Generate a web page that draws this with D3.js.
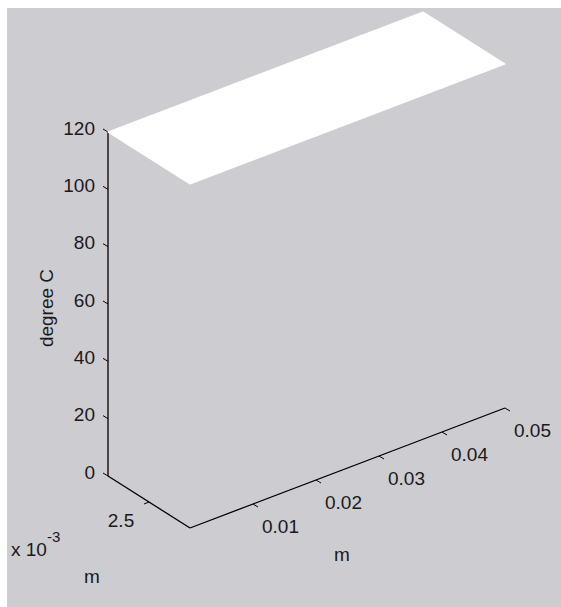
<!DOCTYPE html>
<html>
<head>
<meta charset="utf-8">
<script src="https://cdn.jsdelivr.net/npm/d3@7"></script>
<style>
  html, body { margin: 0; padding: 0; background: #ffffff; }
  svg { display: block; }
  text { font-family: "Liberation Sans", Arial, Helvetica, sans-serif; fill: #1a1a1a; }
</style>
</head>
<body>
<svg id="chart" width="561" height="607"></svg>
<script>
// Grid of the plotted surface: x (m), y (m) and temperature (degree C)
const gridX = [0, 0.01, 0.02, 0.03, 0.04, 0.05];
const gridY = [0, 0.0025, 0.005];
const gridZ = [
  [120, 120, 120, 120, 120, 120],
  [120, 120, 120, 120, 120, 120],
  [120, 120, 120, 120, 120, 120]
];

// Axis ticks and their labels
const xTicks = [0.01, 0.02, 0.03, 0.04, 0.05];
const xTickLabels = ["0.01", "0.02", "0.03", "0.04", "0.05"];
const yTicks = [0.0025];
const yTickLabels = ["2.5"];
const zTicks = [0, 20, 40, 60, 80, 100, 120];
const zTickLabels = ["0", "20", "40", "60", "80", "100", "120"];

const xLabel = "m";
const yLabel = "m";
const zLabel = "degree C";
const yExponent = "-3";

const svg = d3.select("#chart");
const W = 561, H = 607;

// Figure background
svg.append("rect").attr("x", 7).attr("y", 8).attr("width", W - 7).attr("height", H - 8)
  .attr("fill", "rgb(205,204,208)");

// Oblique 3-D projection: each data axis maps to a screen direction
const origin = [190, 528];               // screen point of (x=0, y=0, z=0)
const xScale = d3.scaleLinear().domain([0, 0.05]).range([0, 1]);
const yScale = d3.scaleLinear().domain([0, 0.005]).range([0, 1]);
const zScale = d3.scaleLinear().domain([0, 120]).range([0, -344]);
const xDir = [315, -120];
const yDir = [-82, -52];

function project(x, y, z) {
  const fx = xScale(x), fy = yScale(y);
  return [
    origin[0] + fx * xDir[0] + fy * yDir[0],
    origin[1] + fx * xDir[1] + fy * yDir[1] + zScale(z)
  ];
}

const xMin = d3.min(gridX), xMax = d3.max(gridX);
const yMin = d3.min(gridY), yMax = d3.max(gridY);
const zMin = d3.min(zTicks), zMax = d3.max(zTicks);

const line = d3.line();
const axes = svg.append("g").attr("fill", "none").attr("stroke", "#000");

// Axis lines
axes.append("path").attr("stroke-width", 1.3)
  .attr("d", line([project(xMin, yMax, zMin), project(xMin, yMax, zMax)]));
axes.append("path").attr("stroke-width", 1.3)
  .attr("d", line([project(xMin, yMax, zMin), project(xMin, yMin, zMin)]));
axes.append("path").attr("stroke-width", 1.3)
  .attr("d", line([project(xMin, yMin, zMin), project(xMax, yMin, zMin)]));

// z ticks and labels
zTicks.forEach((t, i) => {
  const p = project(xMin, yMax, t);
  const q = [p[0] - 5, p[1] - 3];
  axes.append("path").attr("stroke-width", 1).attr("d", line([p, q]));
  svg.append("text").attr("x", q[0] - 8).attr("y", p[1] - 4)
    .attr("text-anchor", "end").attr("dominant-baseline", "central")
    .attr("font-size", 19).text(zTickLabels[i]);
});

// x ticks and labels
xTicks.forEach((t, i) => {
  const p = project(t, yMin, zMin);
  const q = [p[0] + 5, p[1] + 3];
  axes.append("path").attr("stroke-width", 1).attr("d", line([p, q]));
  svg.append("text").attr("x", p[0] + 9).attr("y", p[1] + 22)
    .attr("text-anchor", "start").attr("dominant-baseline", "central")
    .attr("font-size", 19).text(xTickLabels[i]);
});

// y ticks and labels
yTicks.forEach((t, i) => {
  const p = project(xMin, t, zMin);
  const q = [p[0] - 5, p[1] + 2];
  axes.append("path").attr("stroke-width", 1).attr("d", line([p, q]));
  svg.append("text").attr("x", p[0] - 28).attr("y", p[1] + 18)
    .attr("text-anchor", "middle").attr("dominant-baseline", "central")
    .attr("font-size", 19).text(yTickLabels[i]);
});

// Surface patches (white stroke closes the seams between cells)
const surf = svg.append("g");
for (let j = 0; j < gridY.length - 1; j++) {
  for (let i = 0; i < gridX.length - 1; i++) {
    const pts = [
      project(gridX[i], gridY[j], gridZ[j][i]),
      project(gridX[i + 1], gridY[j], gridZ[j][i + 1]),
      project(gridX[i + 1], gridY[j + 1], gridZ[j + 1][i + 1]),
      project(gridX[i], gridY[j + 1], gridZ[j + 1][i])
    ];
    surf.append("path").attr("d", line(pts) + "Z")
      .attr("fill", "#ffffff").attr("stroke", "#ffffff")
      .attr("stroke-width", 1.2).attr("stroke-linejoin", "round");
  }
}

// Axis labels
svg.append("text").attr("transform", "translate(46,308) rotate(-90)")
  .attr("text-anchor", "middle").attr("dominant-baseline", "central")
  .attr("font-size", 19).text(zLabel);
svg.append("text").attr("x", 342).attr("y", 554)
  .attr("text-anchor", "middle").attr("dominant-baseline", "central")
  .attr("font-size", 19).text(xLabel);
svg.append("text").attr("x", 92).attr("y", 576)
  .attr("text-anchor", "middle").attr("dominant-baseline", "central")
  .attr("font-size", 19).text(yLabel);

// Exponent multiplier for the y axis
const expo = svg.append("text").attr("x", 11).attr("y", 556).attr("font-size", 19);
expo.append("tspan").text("x 10");
expo.append("tspan").attr("dy", -14).attr("font-size", 15).text(yExponent);
</script>
</body>
</html>
